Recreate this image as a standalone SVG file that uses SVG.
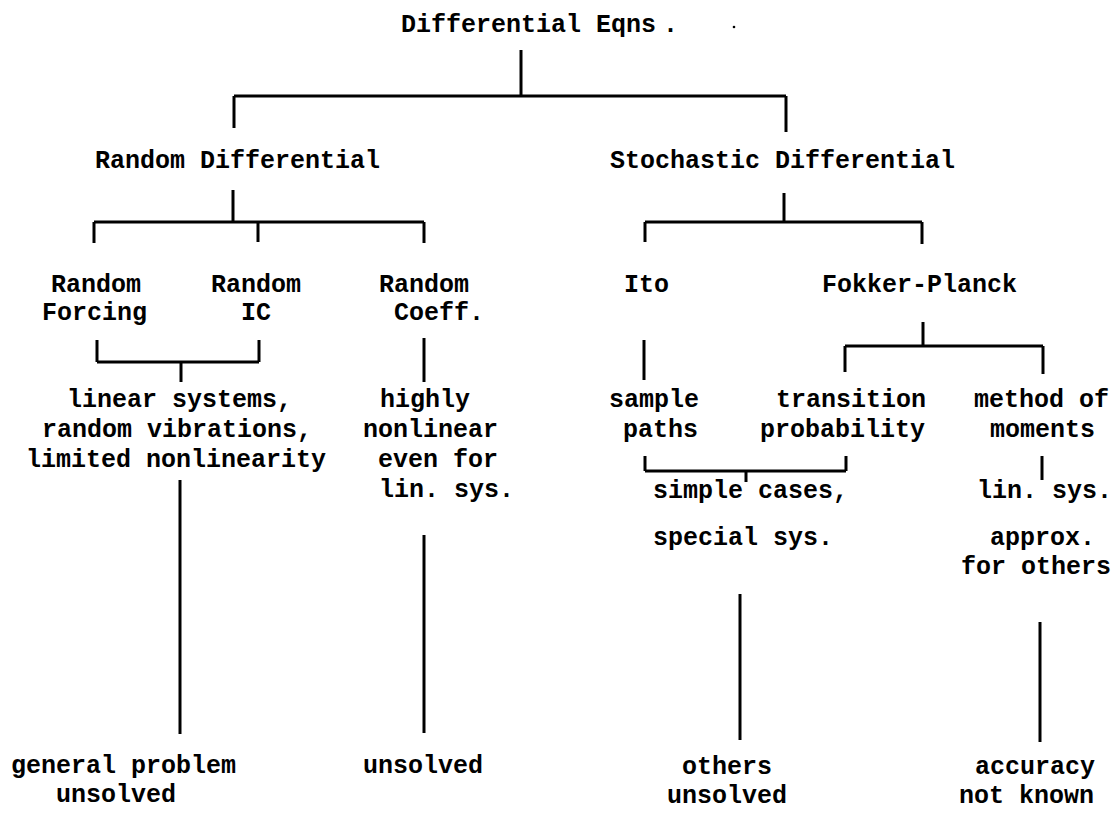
<svg xmlns="http://www.w3.org/2000/svg" width="1118" height="814" viewBox="0 0 1118 814">
<style>
text{font-family:"Liberation Mono","Courier New",monospace;font-weight:bold;font-size:25px;fill:#000}
.c line{stroke:#000;stroke-width:3;stroke-linecap:butt}
</style>
<rect width="1118" height="814" fill="#fff"/>
<g id="connectors" class="c">
<line x1="521" y1="50" x2="521" y2="96"/>
<line x1="234" y1="96" x2="786" y2="96"/>
<line x1="234" y1="96" x2="234" y2="128"/>
<line x1="786" y1="96" x2="786" y2="132"/>
<line x1="233" y1="190" x2="233" y2="222"/>
<line x1="94" y1="222" x2="424" y2="222"/>
<line x1="94" y1="222" x2="94" y2="243"/>
<line x1="258" y1="222" x2="258" y2="242"/>
<line x1="424" y1="222" x2="424" y2="243"/>
<line x1="784" y1="193" x2="784" y2="222"/>
<line x1="645" y1="222" x2="922" y2="222"/>
<line x1="645" y1="222" x2="645" y2="242"/>
<line x1="922" y1="222" x2="922" y2="244"/>
<line x1="97" y1="340" x2="97" y2="362"/>
<line x1="97" y1="362" x2="259" y2="362"/>
<line x1="259" y1="340" x2="259" y2="362"/>
<line x1="181" y1="362" x2="181" y2="382"/>
<line x1="424" y1="338" x2="424" y2="382"/>
<line x1="644" y1="340" x2="644" y2="380"/>
<line x1="923" y1="322" x2="923" y2="346"/>
<line x1="845" y1="346" x2="1043" y2="346"/>
<line x1="845" y1="346" x2="845" y2="372"/>
<line x1="1043" y1="346" x2="1043" y2="374"/>
<line x1="645" y1="456" x2="645" y2="471"/>
<line x1="645" y1="471" x2="846" y2="471"/>
<line x1="846" y1="456" x2="846" y2="471"/>
<line x1="746" y1="471" x2="746" y2="482"/>
<line x1="1042" y1="456" x2="1042" y2="480"/>
<line x1="180" y1="480" x2="180" y2="734"/>
<line x1="424" y1="535" x2="424" y2="733"/>
<line x1="740" y1="594" x2="740" y2="740"/>
<line x1="1040" y1="622" x2="1040" y2="742"/>
</g>
<circle cx="734" cy="27" r="1.3" fill="#000"/>
<g id="n-root"><text x="401" y="32">Differential Eqns<tspan dx="7">.</tspan></text></g>
<g id="n-random"><text x="95" y="168">Random Differential</text></g>
<g id="n-stochastic"><text x="610" y="168">Stochastic Differential</text></g>
<g id="n-forcing"><text x="51" y="292">Random</text><text x="42" y="320">Forcing</text></g>
<g id="n-ic"><text x="211" y="292">Random</text><text x="241" y="320">IC</text></g>
<g id="n-coeff"><text x="379" y="292">Random</text><text x="394" y="320">Coeff.</text></g>
<g id="n-ito"><text x="624" y="292">Ito</text></g>
<g id="n-fokker"><text x="822" y="292">Fokker-Planck</text></g>
<g id="n-linear"><text x="67" y="407">linear systems,</text><text x="42" y="437">random vibrations,</text><text x="26" y="467">limited nonlinearity</text></g>
<g id="n-highly"><text x="380" y="407">highly</text><text x="363" y="437">nonlinear</text><text x="378" y="467">even for</text><text x="379" y="497">lin. sys.</text></g>
<g id="n-sample"><text x="609" y="407">sample</text><text x="623" y="437">paths</text></g>
<g id="n-transition"><text x="776" y="407">transition</text><text x="760" y="437">probability</text></g>
<g id="n-moments"><text x="974" y="407">method of</text><text x="990" y="437">moments</text></g>
<g id="n-simple"><text x="653" y="498">simple cases,</text><text x="653" y="545">special sys.</text></g>
<g id="n-linsys"><text x="977" y="498">lin. sys.</text><text x="990" y="545">approx.</text><text x="961" y="574">for others</text></g>
<g id="n-general"><text x="11" y="773">general problem</text><text x="56" y="802">unsolved</text></g>
<g id="n-unsolved"><text x="363" y="773">unsolved</text></g>
<g id="n-others"><text x="682" y="774">others</text><text x="667" y="803">unsolved</text></g>
<g id="n-accuracy"><text x="975" y="774">accuracy</text><text x="959" y="803">not known</text></g>
</svg>
